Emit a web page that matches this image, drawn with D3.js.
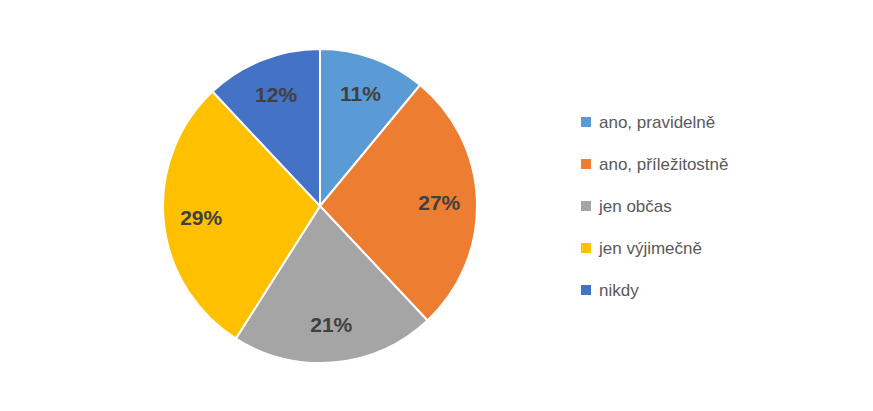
<!DOCTYPE html>
<html><head><meta charset="utf-8">
<script src="https://cdn.jsdelivr.net/npm/d3@7"></script>
<style>body{margin:0;background:#fff}</style></head>
<body><svg id="c" width="873" height="411"></svg>
<script>
const categories = ["ano, pravidelně","ano, příležitostně","jen občas","jen výjimečně","nikdy"];
const values = [11,27,21,29,12];
const colors = ["#5B9BD5","#ED7D31","#A5A5A5","#FFC000","#4472C4"];
const svg = d3.select("#c");
const cx=320, cy=206, r=157;
const g = svg.append("g").attr("transform",`translate(${cx},${cy})`);
const pie = d3.pie().sort(null).value(d=>d);
const arcs = pie(values);
const arc = d3.arc().innerRadius(0).outerRadius(r);
const lab = d3.arc().innerRadius(r*0.76).outerRadius(r*0.76);
g.selectAll("path").data(arcs).join("path").attr("d",arc)
 .attr("fill",(d,i)=>colors[i]).attr("stroke","#fff").attr("stroke-width",2);
g.selectAll("text").data(arcs).join("text")
 .attr("transform",d=>`translate(${lab.centroid(d)})`)
 .attr("text-anchor","middle").attr("dy","0.35em")
 .attr("font-family","Liberation Sans, Arial, sans-serif").attr("font-weight","bold")
 .attr("font-size",21).attr("fill","#404040").text(d=>d.data+"%");
const leg = svg.append("g");
const ly = d3.scalePoint().domain(categories).range([122,290]);
categories.forEach((c,i)=>{
  leg.append("rect").attr("x",581).attr("y",ly(c)-5).attr("width",10).attr("height",10).attr("fill",colors[i]);
  leg.append("text").attr("x",599).attr("y",ly(c)).attr("dy","0.35em")
   .attr("font-family","Liberation Sans, Arial, sans-serif").attr("font-size",17)
   .attr("fill","#595959").text(c);
});
</script></body></html>
